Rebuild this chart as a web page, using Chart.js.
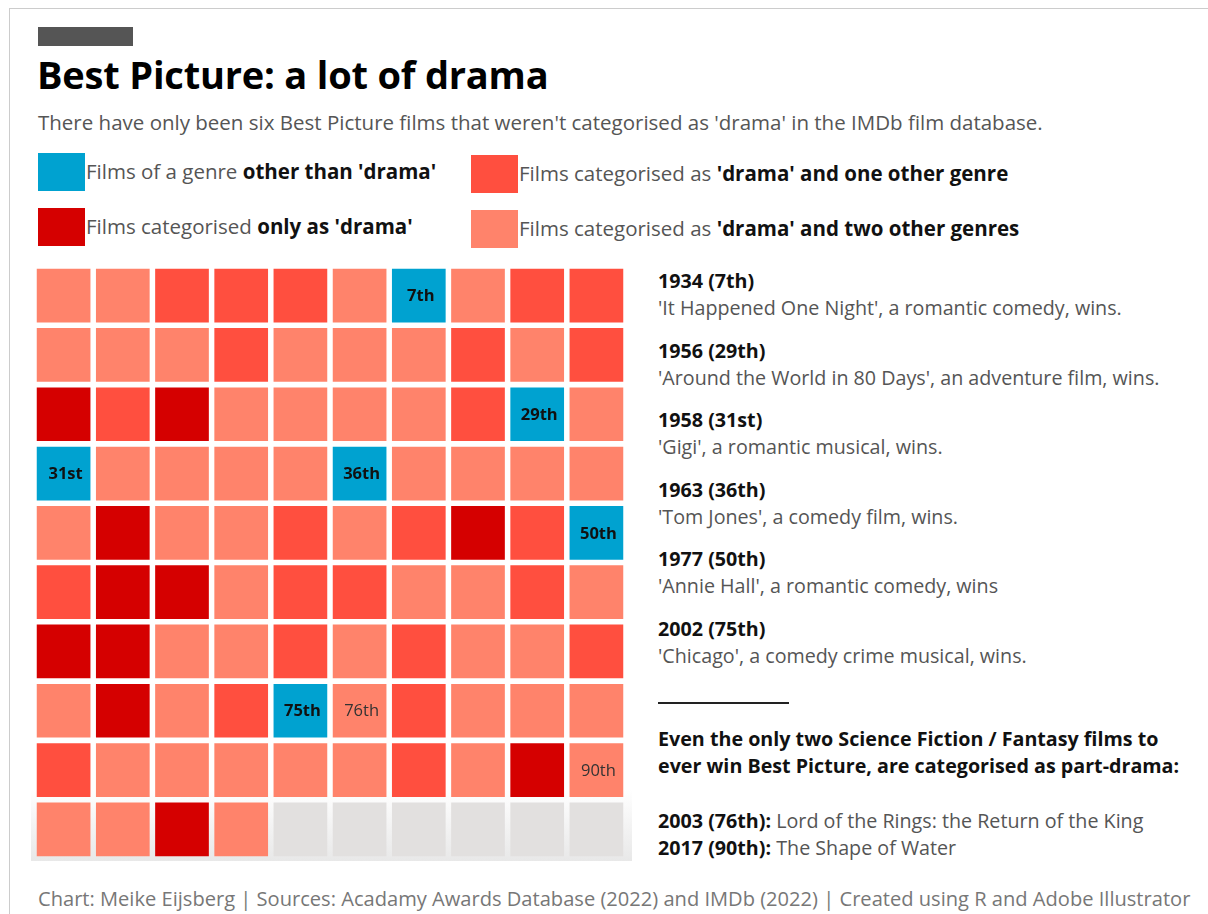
<!DOCTYPE html>
<html>
<head>
<meta charset="utf-8">
<script src="https://cdn.jsdelivr.net/npm/chart.js@4/dist/chart.umd.min.js"></script>
<style>
  body { margin: 0; background: #fff; font-family: "Open Sans", sans-serif; }
  #page { position: relative; width: 1208px; height: 914px; overflow: hidden; }
  #frame { position: absolute; left: 9px; top: 8px; width: 1300px; height: 1000px; border-left: 1px solid #ccc; border-top: 1px solid #ccc; }
  #bar { position: absolute; left: 38px; top: 27px; width: 95px; height: 19px; background: #555; }
  h1 { position: absolute; left: 37px; top: 48px; margin: 0; font-size: 38px; font-weight: 700; color: #000; letter-spacing: -0.2px; }
  #sub { position: absolute; left: 38px; top: 108px; font-size: 20.5px; color: #555; white-space: nowrap; }
  .lg { position: absolute; font-size: 20.5px; color: #555; }
  .lg span.sw { position: absolute; left: 0; top: 0; width: 47px; height: 38px; }
  .lg span.tx { position: absolute; left: 48px; top: 4px; white-space: nowrap; }
  .lg b { color: #111; }
  #wrap { position: absolute; left: 31px; top: 263px; width: 601px; height: 598px;
          background: linear-gradient(to bottom, #fff 88%, #e8e8e8 100%); }
  #chartBox { position: absolute; left: 3px; top: 3px; width: 592px; height: 593px; }
  .note { position: absolute; left: 658px; font-size: 19.7px; line-height: 27px; color: #555; white-space: nowrap; }
  .note b { color: #111; }
  #rule { position: absolute; left: 658px; top: 702px; width: 131px; height: 2px; background: #222; }
  #foot { position: absolute; left: 38px; top: 885px; font-size: 20.1px; color: #777; white-space: nowrap; }
</style>
</head>
<body>
<div id="page">
  <div id="frame"></div>
  <div id="bar"></div>
  <h1>Best Picture: a lot of drama</h1>
  <div id="sub">There have only been six Best Picture films that weren't categorised as 'drama' in the IMDb film database.</div>

  <div class="lg" style="left:38px;top:153px"><span class="sw" style="background:#00A2D0"></span><span class="tx">Films of a genre <b>other than 'drama'</b></span></div>
  <div class="lg" style="left:38px;top:208px"><span class="sw" style="background:#D50000"></span><span class="tx">Films categorised <b>only as 'drama'</b></span></div>
  <div class="lg" style="left:471px;top:155px"><span class="sw" style="background:#FF4F3F"></span><span class="tx">Films categorised as <b>'drama' and one other genre</b></span></div>
  <div class="lg" style="left:471px;top:210px"><span class="sw" style="background:#FF836B"></span><span class="tx">Films categorised as <b>'drama' and two other genres</b></span></div>

  <div id="wrap"><div id="chartBox"><canvas id="grid"></canvas></div></div>

  <div class="note" style="top:267px"><b>1934 (7th)</b><br>'It Happened One Night', a romantic comedy, wins.</div>
  <div class="note" style="top:337px"><b>1956 (29th)</b><br>'Around the World in 80 Days', an adventure film, wins.</div>
  <div class="note" style="top:406px"><b>1958 (31st)</b><br>'Gigi', a romantic musical, wins.</div>
  <div class="note" style="top:476px"><b>1963 (36th)</b><br>'Tom Jones', a comedy film, wins.</div>
  <div class="note" style="top:545px"><b>1977 (50th)</b><br>'Annie Hall', a romantic comedy, wins</div>
  <div class="note" style="top:615px"><b>2002 (75th)</b><br>'Chicago', a comedy crime musical, wins.</div>
  <div id="rule"></div>
  <div class="note" style="top:725px"><b>Even the only two Science Fiction / Fantasy films to<br>ever win Best Picture, are categorised as part-drama:</b></div>
  <div class="note" style="top:807px"><b>2003 (76th):</b> Lord of the Rings: the Return of the King<br><b>2017 (90th):</b> The Shape of Water</div>

  <div id="foot">Chart: Meike Eijsberg | Sources: Acadamy Awards Database (2022) and IMDb (2022) | Created using R and Adobe Illustrator</div>
</div>

<script>
// genre code per ceremony, 1st to 94th (O = not drama, D = only drama, D1 = drama + 1, D2 = drama + 2)
const genres = [
  'D2','D2','D1','D1','D1','D2','O','D2','D1','D1',
  'D2','D2','D2','D1','D2','D2','D2','D1','D2','D1',
  'D','D1','D','D2','D2','D2','D2','D1','O','D2',
  'O','D2','D2','D2','D2','O','D2','D2','D2','D2',
  'D2','D','D2','D2','D1','D2','D1','D','D1','O',
  'D1','D','D','D2','D1','D1','D2','D2','D1','D2',
  'D','D','D2','D2','D1','D2','D1','D2','D2','D1',
  'D2','D','D2','D1','O','D2','D1','D2','D2','D2',
  'D1','D2','D2','D2','D2','D2','D1','D2','D','D2',
  'D2','D2','D','D2'
];
const totalCells = 100;
const cols = 10;

// labels printed inside a few cells
const labelled = [7, 29, 31, 36, 50, 75, 76, 90];
const labelText = ['7th', '29th', '31st', '36th', '50th', '75th', '76th', '90th'];

const categories = ['O', 'D', 'D1', 'D2', 'empty'];
const colours = {
  O: '#00A2D0',
  D: '#D50000',
  D1: '#FF4F3F',
  D2: '#FF836B',
  empty: '#E2E0DF'
};

function cellPos(n) {
  // n is 1-based ceremony number
  return { x: (n - 1) % cols + 1, y: Math.floor((n - 1) / cols) + 1, n: n };
}

function cellRadius(c) {
  const xs = c.chart.scales.x;
  const pitch = Math.abs(xs.getPixelForValue(2) - xs.getPixelForValue(1));
  return (pitch - 5.5) / 2 / Math.SQRT1_2;
}

const datasets = categories.map(function (cat) {
  const pts = [];
  for (let n = 1; n <= totalCells; n++) {
    const g = n <= genres.length ? genres[n - 1] : 'empty';
    if (g === cat) pts.push(cellPos(n));
  }
  return {
    label: cat,
    data: pts,
    backgroundColor: colours[cat],
    borderWidth: 0,
    pointStyle: 'rect',
    pointRadius: cellRadius,
    pointHoverRadius: cellRadius
  };
});

// draws the ceremony labels on top of the cells
const cellLabels = {
  id: 'cellLabels',
  afterDatasetsDraw(chart) {
    const c = chart.ctx;
    const xs = chart.scales.x, ys = chart.scales.y;
    c.save();
    c.textAlign = 'center';
    c.textBaseline = 'middle';
    labelled.forEach(function (n, i) {
      const p = cellPos(n);
      const isOther = genres[n - 1] === 'O';
      c.font = (isOther ? 'bold ' : '') + '16.5px "Open Sans"';
      c.fillStyle = isOther ? '#111' : '#333';
      c.fillText(labelText[i], xs.getPixelForValue(p.x) + 2, ys.getPixelForValue(p.y) + 1);
    });
    c.restore();
  }
};

new Chart(document.getElementById('grid'), {
  type: 'scatter',
  data: { datasets: datasets },
  options: {
    responsive: true,
    maintainAspectRatio: false,
    animation: false,
    events: [],
    layout: { padding: 0 },
    plugins: {
      legend: { display: false },
      tooltip: { enabled: false }
    },
    scales: {
      x: { min: 0.5, max: 10.5, display: false },
      y: { min: 0.5, max: 10.5, reverse: true, display: false }
    }
  },
  plugins: [cellLabels]
});
</script>
</body>
</html>
